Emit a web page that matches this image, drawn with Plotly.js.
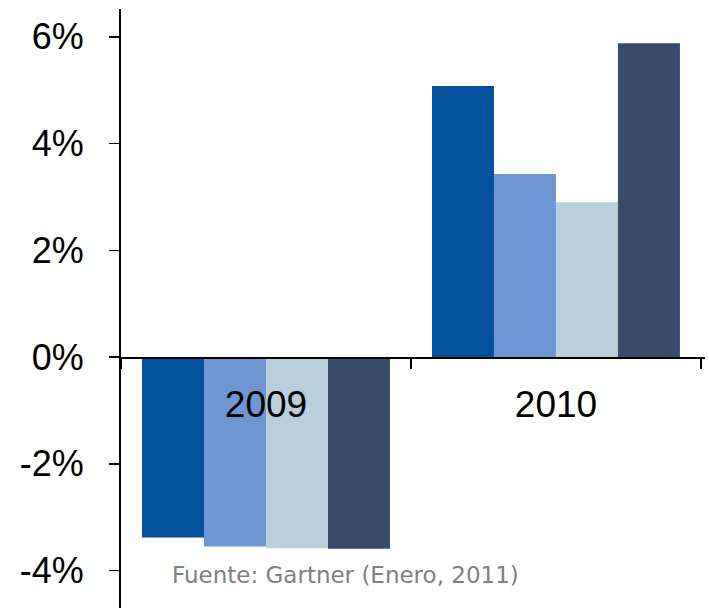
<!DOCTYPE html>
<html>
<head>
<meta charset="utf-8">
<script src="https://cdn.plot.ly/plotly-3.0.1.min.js"></script>
<style>html,body{margin:0;padding:0;background:#fff;}#chart{width:709px;height:608px;}</style>
</head>
<body>
<div id="chart"></div>
<script>
var categories = ["2009", "2010"];
var seriesNames = ["Serie 1", "Serie 2", "Serie 3", "Serie 4"];
var serie1 = [-3.38, 5.08];
var serie2 = [-3.55, 3.43];
var serie3 = [-3.58, 2.90];
var serie4 = [-3.59, 5.88];
var yTickVals = [-4, -2, 0, 2, 4, 6];
var yTickText = ["-4%", "-2%", "0%", "2%", "4%", "6%"];
var sourceText = "Fuente: Gartner (Enero, 2011)";

var colors = ["#02519B", "#6E96D3", "#BACFDD", "#384B6B"];
var allSeries = [serie1, serie2, serie3, serie4];
var traces = allSeries.map(function (vals, i) {
  return {
    type: "bar",
    name: seriesNames[i],
    x: categories,
    y: vals,
    marker: {color: colors[i], line: {width: 0}},
    hoverinfo: "x+y"
  };
});

var yMin = -4.70, yMax = 6.52;
var layout = {
  width: 709,
  height: 608,
  margin: {l: 121, r: 4, t: 9, b: 0, pad: 0},
  paper_bgcolor: "#ffffff",
  plot_bgcolor: "#ffffff",
  showlegend: false,
  barmode: "group",
  bargap: 0.145,
  bargroupgap: 0,
  font: {family: "Liberation Sans, Arial, sans-serif", color: "#000000"},
  xaxis: {
    type: "category",
    range: [-0.5, 1.514],
    anchor: "free",
    position: -yMin / (yMax - yMin),
    showline: true,
    linecolor: "#000000",
    linewidth: 1.5,
    showgrid: false,
    zeroline: false,
    ticks: "outside",
    tickson: "boundaries",
    ticklen: 10,
    tickwidth: 2,
    tickcolor: "#000000",
    ticklabelstandoff: 14,
    tickfont: {family: "Liberation Sans, Arial, sans-serif", size: 37, color: "#000000"}
  },
  yaxis: {
    range: [yMin, yMax],
    tickvals: yTickVals,
    ticktext: yTickText,
    showline: true,
    linecolor: "#000000",
    linewidth: 2,
    showgrid: false,
    zeroline: false,
    ticks: "outside",
    ticklen: 10,
    tickwidth: 1.5,
    tickcolor: "#000000",
    ticklabelstandoff: 18,
    tickfont: {family: "Liberation Sans, Arial, sans-serif", size: 36, color: "#000000"}
  },
  annotations: [{
    text: sourceText,
    xref: "paper", yref: "paper",
    x: (345 - 121) / 584, y: (608 - 575) / 599,
    xanchor: "center", yanchor: "middle",
    showarrow: false,
    font: {family: "DejaVu Sans, sans-serif", size: 23, color: "#808080"}
  }]
};

Plotly.newPlot("chart", traces, layout, {displayModeBar: false, staticPlot: true});
</script>
</body>
</html>
